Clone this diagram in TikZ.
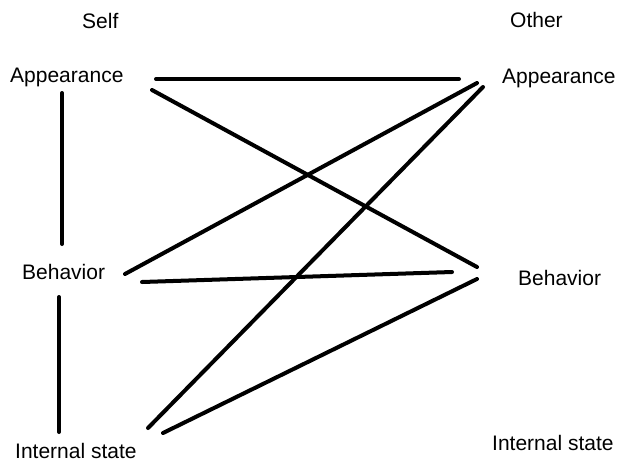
\documentclass[tikz,border=0pt]{standalone}
\usepackage{fontspec}
\setmainfont{Liberation Sans}

\begin{document}
\begin{tikzpicture}[x=1pt,y=-1pt,
  lbl/.style={font=\fontsize{21}{25}\selectfont,inner sep=0pt,anchor=base west},
  lnk/.style={line width=4pt,line cap=round}
]
  \useasboundingbox (0,0) rectangle (617,461);
  % labels
  \node[lbl](self) at (82,28){Self};
  \node[lbl](other) at (510,27){Other};
  \node[lbl](sapp) at (10,82){Appearance};
  \node[lbl](sbeh) at (22,279){Behavior};
  \node[lbl](sint) at (15,458){Internal state};
  \node[lbl](oapp) at (502,83){Appearance};
  \node[lbl](obeh) at (518,285){Behavior};
  \node[lbl](oint) at (492,450){Internal state};
  % line ends
  \coordinate (sapp-s) at (62,93);   \coordinate (sbeh-n) at (62,244);
  \coordinate (sbeh-s) at (59,297);  \coordinate (sint-n) at (59,432);
  \coordinate (sapp-e1) at (156,79); \coordinate (sapp-e2) at (152,90);
  \coordinate (sbeh-e1) at (125,274);\coordinate (sbeh-e2) at (142,282);
  \coordinate (sint-e1) at (148,428);\coordinate (sint-e2) at (163,433);
  \coordinate (oapp-w1) at (459,79); \coordinate (oapp-w2) at (477,83);
  \coordinate (oapp-w3) at (483,87);
  \coordinate (obeh-w1) at (477,267);\coordinate (obeh-w2) at (452,272);
  \coordinate (obeh-w3) at (477,279);
  % links
  \draw[lnk](sapp-s)--(sbeh-n); \draw[lnk](sbeh-s)--(sint-n);
  \draw[lnk](sapp-e1)--(oapp-w1); \draw[lnk](sapp-e2)--(obeh-w1);
  \draw[lnk](sbeh-e1)--(oapp-w2); \draw[lnk](sbeh-e2)--(obeh-w2);
  \draw[lnk](sint-e1)--(oapp-w3); \draw[lnk](sint-e2)--(obeh-w3);
\end{tikzpicture}
\end{document}
